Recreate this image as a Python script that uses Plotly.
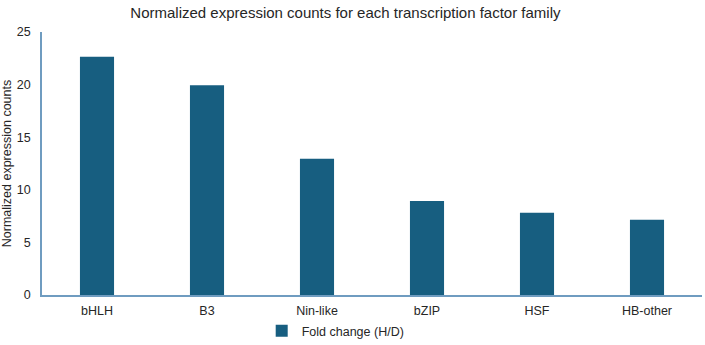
import plotly.graph_objects as go

categories = ["bHLH", "B3", "Nin-like", "bZIP", "HSF", "HB-other"]
values = [22.65, 19.95, 12.95, 8.93, 7.83, 7.15]
series_name = "Fold change (H/D)"
y_ticks = [0, 5, 10, 15, 20, 25]

fig = go.Figure()
fig.add_trace(go.Bar(
    x=categories, y=values, name=series_name,
    marker=dict(color="#175E80", line=dict(width=0)),
    showlegend=True,
))

font_family = "Liberation Sans, Arial, sans-serif"
fig.update_layout(
    width=705, height=345,
    margin=dict(l=42, r=3, t=32, b=50, autoexpand=False),
    paper_bgcolor="white", plot_bgcolor="white",
    font=dict(family=font_family, size=12, color="#262626"),
    title=dict(text="Normalized expression counts for each transcription factor family",
               x=0.49, xanchor="center", y=0.962, yanchor="middle",
               font=dict(size=15, color="#262626")),
    bargap=0.69,
    xaxis=dict(showline=True, linecolor="#6F9CC0", linewidth=1.5, automargin=False,
               showgrid=False, ticks="outside", ticklen=3, tickcolor="rgba(0,0,0,0)",
               tickfont=dict(size=12.5)),
    yaxis=dict(range=[0, 25], tickvals=y_ticks, showline=True, automargin=False,
               linecolor="#6F9CC0", linewidth=1.5, showgrid=False,
               ticks="outside", ticklen=7, tickcolor="rgba(0,0,0,0)",
               zeroline=False, tickfont=dict(size=12.5),
               title=dict(text="Normalized expression counts", font=dict(size=12.5), standoff=4)),
    legend=dict(orientation="h", x=0.445, xanchor="center",
                yref="container", y=0.04, yanchor="middle",
                bgcolor="rgba(0,0,0,0)", font=dict(size=12.5)),
)

fig.write_html("out.html")
